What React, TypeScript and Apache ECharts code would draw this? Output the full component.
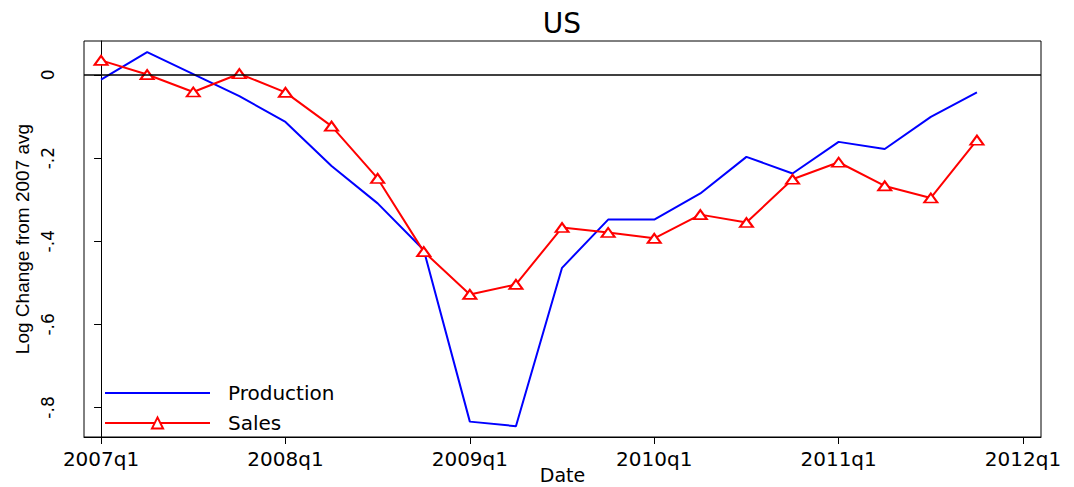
import React, { useEffect, useRef } from 'react';
import * as echarts from 'echarts';

// Quarters 2007q1 .. 2011q4
const quarters = [
  '2007q1', '2007q2', '2007q3', '2007q4',
  '2008q1', '2008q2', '2008q3', '2008q4',
  '2009q1', '2009q2', '2009q3', '2009q4',
  '2010q1', '2010q2', '2010q3', '2010q4',
  '2011q1', '2011q2', '2011q3', '2011q4',
];

const production = [
  -0.011, 0.055, 0.002, -0.051,
  -0.113, -0.219, -0.309, -0.421,
  -0.834, -0.845, -0.464, -0.348,
  -0.348, -0.285, -0.197, -0.237,
  -0.161, -0.178, -0.101, -0.042,
];

const sales = [
  0.035, 0.001, -0.041, 0.003,
  -0.042, -0.123, -0.249, -0.425,
  -0.528, -0.504, -0.367, -0.379,
  -0.393, -0.336, -0.355, -0.251,
  -0.21, -0.267, -0.296, -0.157,
];

const xTickLabels = ['2007q1', '2008q1', '2009q1', '2010q1', '2011q1', '2012q1'];
const xTickIndex = [0, 4, 8, 12, 16, 20];
const yTickValues = [0, -0.2, -0.4, -0.6, -0.8];
const yTickLabels = ['0', '-.2', '-.4', '-.6', '-.8'];

const HFONT = 'DejaVu Sans';
const VFONT = 'Liberation Sans';

export default function App() {
  const ref = useRef<HTMLDivElement>(null);

  useEffect(() => {
    const chart = echarts.init(ref.current!, null, { renderer: 'svg' });
    const option: any = {
      animation: false,
      backgroundColor: '#fff',
      title: {
        text: 'US',
        left: 562,
        top: 9,
        padding: 0,
        textAlign: 'center',
        textStyle: { fontFamily: HFONT, fontSize: 28, fontWeight: 'normal', color: '#000' },
      },
      legend: {
        orient: 'vertical',
        left: 104,
        top: 383,
        padding: 0,
        itemWidth: 105,
        itemHeight: 14,
        itemGap: 10,
        selectedMode: false,
        data: [
          { name: 'Production', itemStyle: { opacity: 0 } },
          { name: 'Sales' },
        ],
        textStyle: { fontFamily: HFONT, fontSize: 20, color: '#000', padding: [0, 0, 0, 13] },
      },
      grid: {
        left: 84,
        top: 41,
        right: 33,
        bottom: 50,
        containLabel: false,
        outerBoundsMode: 'none',
        show: true,
        borderColor: '#000',
        borderWidth: 1,
        backgroundColor: 'transparent',
      },
      xAxis: {
        type: 'value',
        min: -0.37,
        max: 20.39,
        name: 'Date',
        nameLocation: 'middle',
        nameGap: 28,
        nameMoveOverlap: false,
        nameTextStyle: { fontFamily: HFONT, fontSize: 19, color: '#000' },
        axisLine: { onZero: false, lineStyle: { color: '#000', width: 1 } },
        axisTick: { show: true, customValues: xTickIndex, length: 7, lineStyle: { color: '#000' } },
        axisLabel: {
          customValues: xTickIndex,
          margin: 12,
          fontFamily: HFONT,
          fontSize: 20,
          color: '#000',
          formatter: (v: number) => {
            const i = xTickIndex.indexOf(Math.round(v));
            return i >= 0 ? xTickLabels[i] : '';
          },
        },
        splitLine: { show: false },
      },
      yAxis: {
        type: 'value',
        min: -0.871,
        max: 0.0817,
        name: 'Log Change from 2007 avg',
        nameLocation: 'middle',
        nameRotate: 90,
        nameGap: 52,
        nameMoveOverlap: false,
        nameTextStyle: { fontFamily: VFONT, fontSize: 19, color: '#000' },
        axisLine: { show: true, lineStyle: { color: '#000', width: 1 } },
        axisTick: { show: true, customValues: yTickValues, length: 7, lineStyle: { color: '#000' } },
        axisLabel: {
          customValues: yTickValues,
          rotate: 90,
          margin: 28,
          fontFamily: HFONT,
          fontSize: 17,
          color: '#000',
          formatter: (v: number) => {
            const i = yTickValues.findIndex((t) => Math.abs(t - v) < 1e-6);
            return i >= 0 ? yTickLabels[i] : '';
          },
        },
        splitLine: { show: false },
      },
      series: [
        {
          name: 'Production',
          type: 'line',
          data: quarters.map((_, i) => [i, production[i]]),
          symbol: 'none',
          itemStyle: { color: '#0000ff' },
          lineStyle: { color: '#0000ff', width: 2 },
          emphasis: { disabled: true },
          z: 2,
          markLine: {
            silent: true,
            symbol: ['none', 'none'],
            label: { show: false },
            lineStyle: { color: '#000', width: 1.5, type: 'solid' },
            emphasis: { disabled: true },
            data: [{ yAxis: 0 }],
          },
        },
        {
          name: 'Sales',
          type: 'line',
          data: quarters.map((_, i) => [i, sales[i]]),
          symbol: 'path://M0,10L6,0L12,10Z',
          symbolSize: [13, 9],
          showSymbol: true,
          itemStyle: { color: '#ffffff', borderColor: '#ff0000', borderWidth: 2 },
          lineStyle: { color: '#ff0000', width: 2 },
          emphasis: { disabled: true },
          z: 3,
        },
      ],
    };
    chart.setOption(option);
    return () => chart.dispose();
  }, []);

  return (
    <div
      ref={ref}
      style={{ position: 'absolute', left: 0, top: 0, width: 1074, height: 487, background: '#fff' }}
    />
  );
}
